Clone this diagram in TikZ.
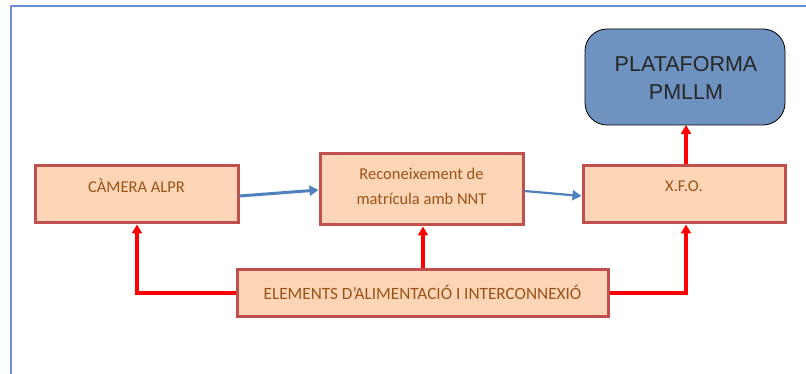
\documentclass[tikz,border=0pt]{standalone}
\usepackage{fontspec}
\setmainfont{Carlito}
\newfontfamily\arialf{Liberation Sans}
\usetikzlibrary{arrows.meta}
\definecolor{boxfill}{HTML}{FBD5B5}
\definecolor{boxline}{HTML}{C0504D}
\definecolor{boxtext}{HTML}{9A5318}
\definecolor{platfill}{HTML}{6F93C0}
\definecolor{bluearr}{HTML}{4F81BD}
\definecolor{framec}{HTML}{6A8FD8}
\begin{document}
\begin{tikzpicture}[x=1pt,y=-1pt,
  pbox/.style={draw=boxline,fill=boxfill,line width=3pt},
  ptext/.style={text=boxtext,font=\fontsize{16.5}{25}\selectfont},
  redarr/.style={draw=red,line width=3.2pt,-{Triangle[length=9pt,width=10pt]}},
  bluear/.style={draw=bluearr,line width=3pt,-{Triangle[length=9pt,width=10pt]}}]
\useasboundingbox (0,0) rectangle (806,374);
\fill[white] (0,0) rectangle (806,374);
\draw[framec,line width=1.2pt] (11,374) -- (11,6) -- (806,6);
% boxes
\draw[black,line width=0.8pt,fill=platfill,rounded corners=22pt] (585,29) rectangle (785,125);
\node[font=\arialf\fontsize{21.5}{28}\selectfont,text=black!85,align=center] (plat) at (686,78) {PLATAFORMA\\PMLLM};
\coordinate (platb) at (686,125);
\draw[pbox] (35,166) rectangle (238,223);
\node[ptext] (cam) at (136.5,186) {CÀMERA ALPR};
\draw[pbox] (320,154) rectangle (523,225);
\node[ptext,align=center] (rec) at (421.5,186) {Reconeixement de\\matrícula amb NNT};
\draw[pbox] (583,166) rectangle (785,223);
\node[ptext] (xfo) at (684,186) {X.F.O.};
\draw[pbox] (237,269) rectangle (608,316);
\node[ptext,font=\fontsize{17.2}{25}\selectfont] (elem) at (422.5,292) {ELEMENTS D’ALIMENTACIÓ I INTERCONNEXIÓ};
% coordinates
\coordinate (camb) at (137,224.5);
\coordinate (recb) at (423,226.5);
\coordinate (xfob) at (686,224.5);
\coordinate (xfot) at (686,164.5);
\coordinate (eleml) at (235.5,293);
\coordinate (elemt) at (423,267.5);
\coordinate (elemr) at (609.5,293);
\coordinate (camr) at (239.5,196);
\coordinate (recl) at (318.5,190);
\coordinate (recr) at (524.5,191);
\coordinate (xfol) at (581.5,196);
% red connectors
\draw[redarr] (eleml) -| (camb);
\draw[redarr] (elemt) -- (recb);
\draw[redarr] (elemr) -| (xfob);
\draw[redarr] (xfot) -- (platb);
% blue connectors
\draw[bluear] (camr) -- (recl);
\draw[bluear,line width=2.2pt] (recr) -- (xfol);
\end{tikzpicture}
\end{document}
